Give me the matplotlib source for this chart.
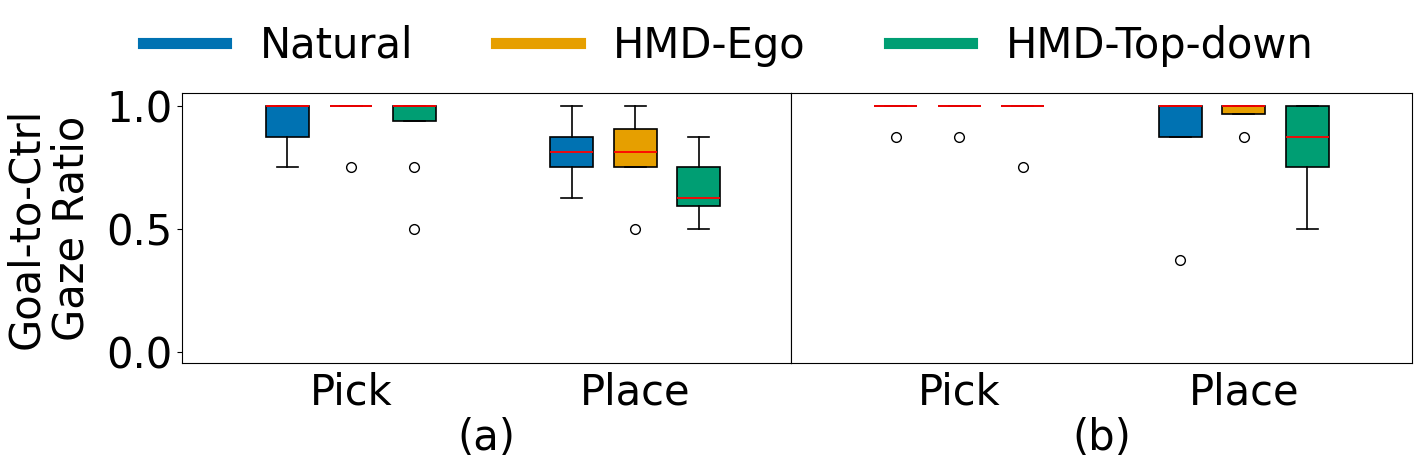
import matplotlib
matplotlib.use("Agg")
import matplotlib.pyplot as plt
from matplotlib.lines import Line2D

conditions = ["Natural", "HMD-Ego", "HMD-Top-down"]
colors = ["#0072B2", "#E69F00", "#009E73"]
phases = ["Pick", "Place"]
panels = ["(a)", "(b)"]

# panel (a): [condition][phase]
a_q1 = [[0.875, 0.75], [1.0, 0.75], [0.9375, 0.59375]]
a_med = [[1.0, 0.8125], [1.0, 0.8125], [1.0, 0.625]]
a_q3 = [[1.0, 0.875], [1.0, 0.90625], [1.0, 0.75]]
a_wlo = [[0.75, 0.625], [1.0, 0.75], [0.9375, 0.5]]
a_whi = [[1.0, 1.0], [1.0, 1.0], [1.0, 0.875]]
a_fliers = [[[], []], [[0.75], [0.5]], [[0.75, 0.5], []]]

# panel (b)
b_q1 = [[1.0, 0.875], [1.0, 0.96875], [1.0, 0.75]]
b_med = [[1.0, 1.0], [1.0, 1.0], [1.0, 0.875]]
b_q3 = [[1.0, 1.0], [1.0, 1.0], [1.0, 1.0]]
b_wlo = [[1.0, 0.875], [1.0, 0.96875], [1.0, 0.5]]
b_whi = [[1.0, 1.0], [1.0, 1.0], [1.0, 1.0]]
b_fliers = [[[0.875], [0.375]], [[0.875], [0.875]], [[0.75], []]]

panel_data = [
    (a_q1, a_med, a_q3, a_wlo, a_whi, a_fliers),
    (b_q1, b_med, b_q3, b_wlo, b_whi, b_fliers),
]

W, H = 1422, 469
fig = plt.figure(figsize=(W / 100, H / 100), dpi=100)

ax_px = [(182.3, 791.3), (791.3, 1412.3)]
top_px, bot_px = 93.3, 362.7
xlims = [(0.407, 2.549), (0.410, 2.592)]

FS = 30
group_pos = [1, 2]
offset = 0.223
bw = 0.15

axes = []
for k, (x0, x1) in enumerate(ax_px):
    ax = fig.add_axes([x0 / W, 1 - bot_px / H, (x1 - x0) / W, (bot_px - top_px) / H])
    axes.append(ax)
    q1, med, q3, wlo, whi, fl = panel_data[k]
    for ci, cond in enumerate(conditions):
        stats = []
        for pi in range(len(phases)):
            stats.append(dict(q1=q1[ci][pi], med=med[ci][pi], q3=q3[ci][pi],
                              whislo=wlo[ci][pi], whishi=whi[ci][pi],
                              fliers=fl[ci][pi], label=phases[pi]))
        pos = [g + (ci - 1) * offset for g in group_pos]
        ax.bxp(stats, positions=pos, widths=bw, patch_artist=True,
               manage_ticks=False,
               boxprops=dict(facecolor=colors[ci], edgecolor="black", linewidth=1.2),
               medianprops=dict(color="red", linewidth=1.3),
               whiskerprops=dict(color="black", linewidth=1.2),
               capprops=dict(color="black", linewidth=1.2),
               flierprops=dict(marker="o", markerfacecolor="white",
                               markeredgecolor="black", markersize=7))
    ax.set_xlim(*xlims[k])
    ax.set_ylim(-0.045, 1.052)
    ax.set_xticks(group_pos)
    ax.set_xticklabels(phases, fontsize=FS)
    ax.tick_params(axis="x", length=0, pad=6)
    ax.set_xlabel(panels[k], fontsize=FS, labelpad=3)
    if k == 0:
        ax.set_yticks([0.0, 0.5, 1.0])
        ax.set_yticklabels(["0.0", "0.5", "1.0"], fontsize=FS)
        ax.set_ylabel("Goal-to-Ctrl\nGaze Ratio", fontsize=FS, linespacing=1.1,
                      labelpad=10)
    else:
        ax.set_yticks([])

handles = [Line2D([0], [0], color=c, linewidth=8) for c in colors]
fig.legend(handles, conditions, loc="center", ncol=3, frameon=False,
           fontsize=FS, bbox_to_anchor=(0.512, 1 - 46 / H), handlelength=2.0,
           columnspacing=2.0, handletextpad=0.8)

fig.savefig("out.png", dpi=100)
